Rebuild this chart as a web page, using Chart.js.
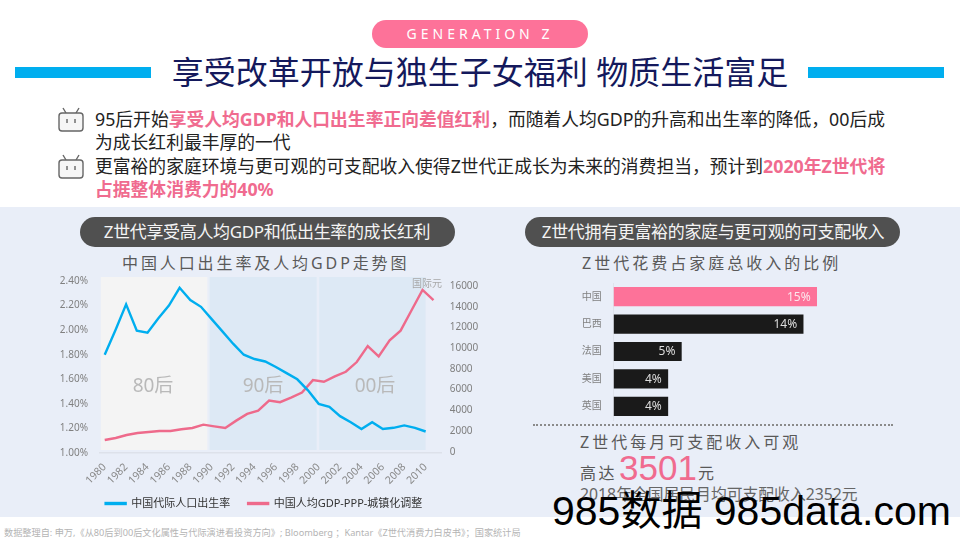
<!DOCTYPE html>
<html lang="zh">
<head>
<meta charset="utf-8">
<title>Generation Z</title>
<script src="https://cdn.jsdelivr.net/npm/chart.js@4/dist/chart.umd.min.js"></script>
<style>
    html, body { margin: 0; padding: 0; background: #fff; }
    body { position: relative; width: 960px; height: 540px; overflow: hidden; font-family: "Noto Sans", "Noto Sans CJK SC", sans-serif; }
    .t { position: absolute; white-space: nowrap; line-height: 1; }
    .box { position: absolute; }
    canvas { position: absolute; }
    .hl { color: #f06b8f; font-weight: 700; }
    .body-line { left: 95px; font-size: 17.8px; color: #222; }
    .pill { background: #505050; border-radius: 15px; top: 217px; height: 30px; width: 375px; }
    .pill-t { top: 223px; font-size: 17px; color: #f4f4f4; letter-spacing: -0.35px; transform: translateX(-50%); }
    .sub { font-size: 16px; color: #595959; }
    .band-t { top: 376px; font-size: 19px; color: #b9b9b9; transform: translateX(-50%); }
</style>
</head>
<body>
<div class="box" style="left:0;top:207px;width:960px;height:310px;background:#e9eef8"></div>

<div class="box" style="left:372px;top:20px;width:216px;height:28px;background:#fd7299;border-radius:14px"></div>
<div class="t" style="left:480px;top:27px;font-size:14px;letter-spacing:4px;color:#fff;transform:translateX(-50%)">GENERATION Z</div>
<div class="box" style="left:15px;top:67px;width:136px;height:11px;background:#00aeef"></div>
<div class="box" style="left:808px;top:67px;width:136px;height:11px;background:#00aeef"></div>
<div class="t" style="left:480px;top:56px;font-size:32px;color:#14195c;transform:translateX(-50%)">享受改革开放与独生子女福利 物质生活富足</div>

<svg class="box" style="left:58px;top:107px" width="26" height="25" viewBox="0 0 26 25">
    <path d="M8 6 L5 1 M18 6 L21 1" stroke="#666" stroke-width="1.4" fill="none"/>
    <rect x="1" y="6" width="24" height="18" rx="3" fill="#f6f6f6" stroke="#666" stroke-width="1.4"/>
    <path d="M9 12 V16 M17 12 V16" stroke="#666" stroke-width="1.4"/>
</svg>
<svg class="box" style="left:58px;top:154px" width="26" height="25" viewBox="0 0 26 25">
    <path d="M8 6 L5 1 M18 6 L21 1" stroke="#666" stroke-width="1.4" fill="none"/>
    <rect x="1" y="6" width="24" height="18" rx="3" fill="#f6f6f6" stroke="#666" stroke-width="1.4"/>
    <path d="M9 12 V16 M17 12 V16" stroke="#666" stroke-width="1.4"/>
</svg>

<div class="t body-line" style="top:111px">95后开始<span class="hl">享受人均GDP和人口出生率正向差值红利</span>，而随着人均GDP的升高和出生率的降低，00后成</div>
<div class="t body-line" style="top:134px">为成长红利最丰厚的一代</div>
<div class="t body-line" style="top:158px">更富裕的家庭环境与更可观的可支配收入使得Z世代正成长为未来的消费担当，预计到<span class="hl">2020年Z世代将</span></div>
<div class="t body-line" style="top:181px"><span class="hl">占据整体消费力的40%</span></div>

<div class="box pill" style="left:80px"></div>
<div class="box pill" style="left:525px"></div>
<div class="t pill-t" style="left:267px">Z世代享受高人均GDP和低出生率的成长红利</div>
<div class="t pill-t" style="left:713px">Z世代拥有更富裕的家庭与更可观的可支配收入</div>

<div class="t sub" style="left:122px;top:255px;letter-spacing:2.9px">中国人口出生率及人均GDP走势图</div>
<div class="t sub" style="left:582px;top:255px;letter-spacing:3px">Z世代花费占家庭总收入的比例</div>

<canvas id="lineChart" width="452" height="249" style="left:38px;top:270px"></canvas>
<canvas id="barChart" width="320" height="140" style="left:560px;top:281px"></canvas>

<div class="t" style="left:412px;top:278px;font-size:10px;color:#a8a8a8">国际元</div>
<div class="t band-t" style="left:153px">80后</div>
<div class="t band-t" style="left:263px">90后</div>
<div class="t band-t" style="left:375px">00后</div>

<div class="box" style="left:533px;top:424px;width:360px;border-top:2px dotted #8a8a8a"></div>
<div class="t sub" style="left:580px;top:434px;letter-spacing:3px">Z世代每月可支配收入可观</div>
<div class="t sub" style="left:580px;top:465px;letter-spacing:2.6px">高达</div>
<div class="t" style="left:619px;top:450px;font-size:35px;color:#f06b8f;font-family:'Liberation Sans',sans-serif">3501</div>
<div class="t sub" style="left:698px;top:465px">元</div>
<div class="t" style="left:580px;top:487px;font-size:15.8px;color:#666">2018年全国居民月均可支配收入2352元</div>

<div class="t" style="left:4px;top:528px;font-size:9.18px;color:#b4b4b4">数据整理自: 申万,《从80后到00后文化属性与代际演进看投资方向》; Bloomberg ；Kantar《Z世代消费力白皮书》；国家统计局</div>
<div class="t" style="left:552px;top:491px;font-size:41px;color:#000;font-family:'Liberation Sans','Noto Sans CJK SC',sans-serif">985数据 985data.com</div>

<script>
// Line chart data
const years = [1980, 1981, 1982, 1983, 1984, 1985, 1986, 1987, 1988, 1989, 1990,
    1991, 1992, 1993, 1994, 1995, 1996, 1997, 1998, 1999, 2000,
    2001, 2002, 2003, 2004, 2005, 2006, 2007, 2008, 2009, 2010];
const birthRate = [1.80, 2.00, 2.21, 1.995, 1.98, 2.095, 2.20, 2.345, 2.245, 2.19, 2.09,
    1.99, 1.89, 1.80, 1.765, 1.745, 1.70, 1.65, 1.60, 1.51, 1.40,
    1.375, 1.30, 1.25, 1.195, 1.25, 1.195, 1.205, 1.225, 1.205, 1.175];
const gdpPerCapita = [1130, 1320, 1615, 1810, 1905, 2000, 2000, 2165, 2290, 2615, 2450,
    2290, 3000, 3650, 3970, 4940, 4780, 5230, 5720, 6910, 6750,
    7270, 7720, 8660, 10200, 9200, 10750, 11690, 13660, 15630, 14630];
const seriesNames = ['中国代际人口出生率', '中国人均GDP-PPP-城镇化调整'];

// Tick labels
const yearTicks = [1980, 1982, 1984, 1986, 1988, 1990, 1992, 1994, 1996, 1998,
    2000, 2002, 2004, 2006, 2008, 2010];
const rateTicks = [1.0, 1.2, 1.4, 1.6, 1.8, 2.0, 2.2, 2.4];
const gdpTicks = [0, 2000, 4000, 6000, 8000, 10000, 12000, 14000, 16000];

// Generation bands behind the lines, in years
const bandStarts = [1979.63, 1989.81, 2000.06];
const bandEnds = [1989.59, 1999.81, 2010];
const bandColors = ['#f4f4f4', '#dde9f5', '#dde9f5'];

// Bar chart data
const countries = ['中国', '巴西', '法国', '美国', '英国'];
const spendShare = [15, 14, 5, 4, 4];
const barColors = ['#fd7299', '#1a1a1a', '#1a1a1a', '#1a1a1a', '#1a1a1a'];

const FONT = '"Noto Sans", "Noto Sans CJK SC", sans-serif';

// Pin an axis to a fixed size and drop the label overhang padding
const fixSize = (scale, size) => {
    if (scale.isHorizontal()) {
        scale.height = size;
    } else {
        scale.width = size;
    }
    scale.paddingTop = scale.paddingBottom = scale.paddingLeft = scale.paddingRight = 0;
    // rotated year labels have to hang out past the plot area
    scale._computeLabelArea = () => undefined;
};
const useTicks = (values) => (scale) => {
    scale.ticks = values.map(value => ({ value }));
};

const bandPlugin = {
    id: 'bands',
    beforeDatasetsDraw(chart) {
        const { ctx, chartArea, scales } = chart;
        bandStarts.forEach((start, i) => {
            const left = scales.x.getPixelForValue(start);
            const right = scales.x.getPixelForValue(bandEnds[i]);
            ctx.fillStyle = bandColors[i];
            ctx.fillRect(left, chartArea.top, right - left, chartArea.height - 3);
        });
    }
};

new Chart(document.getElementById('lineChart'), {
    type: 'line',
    data: {
        datasets: [{
            label: seriesNames[0],
            data: years.map((year, i) => ({ x: year, y: birthRate[i] })),
            borderColor: '#00aeef',
            backgroundColor: '#00aeef',
            borderWidth: 2.4,
            pointRadius: 0,
            xAxisID: 'x',
            yAxisID: 'y'
        }, {
            label: seriesNames[1],
            data: years.map((year, i) => ({ x: year, y: gdpPerCapita[i] })),
            borderColor: '#ee6a8b',
            backgroundColor: '#ee6a8b',
            borderWidth: 2.4,
            pointRadius: 0,
            xAxisID: 'x2',
            yAxisID: 'y2'
        }]
    },
    options: {
        responsive: false,
        animation: false,
        layout: { padding: { top: 7 } },
        plugins: {
            legend: {
                position: 'bottom',
                labels: {
                    boxWidth: 20,
                    boxHeight: 1,
                    padding: 18,
                    color: '#333',
                    font: { family: FONT, size: 11 }
                }
            },
            tooltip: { enabled: false }
        },
        scales: {
            x: {
                type: 'linear',
                min: 1979.56,
                max: 2011.5,
                afterBuildTicks: useTicks(yearTicks),
                afterFit: (scale) => fixSize(scale, 27),
                grid: { display: false },
                border: { color: '#dde1ea', width: 1.5 },
                ticks: {
                    autoSkip: false,
                    maxRotation: 45,
                    minRotation: 45,
                    padding: 0,
                    color: '#8a8a8a',
                    font: { family: FONT, size: 10.5 },
                    callback: (value) => String(value)
                }
            },
            x2: {
                type: 'linear',
                display: false,
                min: 1979.57,
                max: 2010.75
            },
            y: {
                position: 'left',
                min: 1,
                max: 2.4327,
                afterBuildTicks: useTicks(rateTicks),
                afterFit: (scale) => fixSize(scale, 62),
                grid: { display: false },
                border: { display: false },
                ticks: {
                    padding: 4,
                    color: '#808080',
                    font: { family: FONT, size: 10 },
                    callback: (value) => value.toFixed(2) + '%'
                }
            },
            y2: {
                position: 'right',
                min: -126,
                max: 16873,
                afterBuildTicks: useTicks(gdpTicks),
                afterFit: (scale) => fixSize(scale, 48.3),
                grid: { display: false },
                border: { display: false },
                ticks: {
                    padding: 0,
                    color: '#808080',
                    font: { family: FONT, size: 10 },
                    callback: (value) => String(value)
                }
            }
        }
    },
    plugins: [bandPlugin]
});

// Percent labels inside the end of each bar
const barLabelPlugin = {
    id: 'barLabels',
    afterDatasetsDraw(chart) {
        const { ctx } = chart;
        const bars = chart.getDatasetMeta(0).data;
        ctx.save();
        ctx.font = '12px ' + FONT;
        ctx.textAlign = 'right';
        ctx.textBaseline = 'middle';
        bars.forEach((bar, i) => {
            ctx.fillStyle = i === 0 ? '#fbe6ec' : '#dedede';
            ctx.fillText(spendShare[i] + '%', bar.x - 6, bar.y + 0.5);
        });
        ctx.restore();
    }
};

new Chart(document.getElementById('barChart'), {
    type: 'bar',
    data: {
        labels: countries,
        datasets: [{
            data: spendShare,
            backgroundColor: barColors,
            barThickness: 18.5
        }]
    },
    options: {
        responsive: false,
        animation: false,
        indexAxis: 'y',
        layout: { padding: { top: 2, bottom: 1 } },
        plugins: {
            legend: { display: false },
            tooltip: { enabled: false }
        },
        scales: {
            x: {
                display: false,
                min: 0,
                max: 19.68
            },
            y: {
                afterFit: (scale) => fixSize(scale, 53.7),
                grid: { display: false },
                border: { color: '#dfe3ec' },
                ticks: {
                    padding: 4,
                    color: '#808080',
                    font: { family: FONT, size: 10 }
                }
            }
        }
    },
    plugins: [barLabelPlugin]
});
</script>
</body>
</html>
